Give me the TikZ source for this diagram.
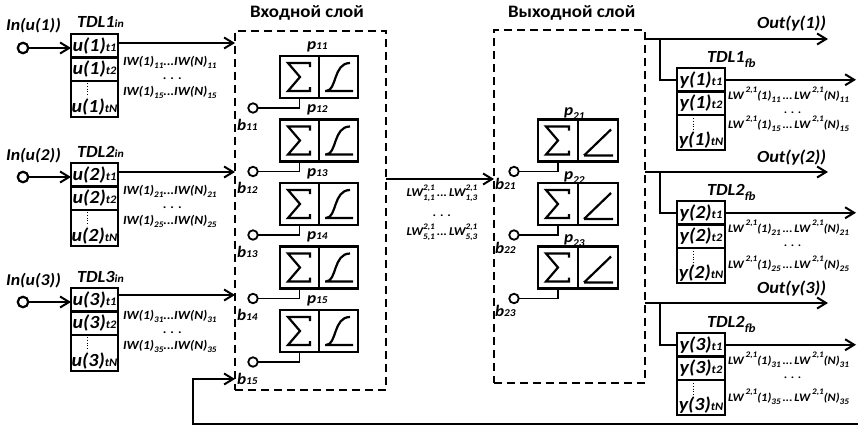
\documentclass[tikz,border=0pt]{standalone}
\usepackage{fontspec}
\setmainfont{Carlito}[FakeStretch=1.08]
\usetikzlibrary{arrows.meta,calc}
\newcommand\fsz[1]{\fontsize{#1}{#1}\selectfont}
\newcommand\mydn[1]{\raisebox{-0.28em}{\fsz{8.5}#1}}
\newcommand\myup[1]{\raisebox{0.55em}{\fsz{8.5}#1}}
\newcommand\myud[2]{\rlap{\myup{#1}}\mydn{#2}}
\begin{document}
\begin{tikzpicture}[x=1pt,y=-1pt,
  every node/.style={inner sep=0pt,outer sep=0pt,font=\bfseries\itshape},
  ln/.style={line width=2.4pt},
  arr/.style={line width=2.4pt,-{Straight Barb[length=9pt,width=11pt,line width=2pt]}},
  cellbox/.style={draw,line width=2.2pt,minimum width=47pt,anchor=north west},
  nbox/.style={draw,line width=2.2pt,minimum height=42pt,anchor=north west},
  glyph/.style={line width=2.2pt},
  biasc/.style={draw,circle,line width=1.8pt,minimum size=9.5pt,fill=white},
  biasl/.style={line width=1.8pt},
  inc/.style={draw,circle,line width=2.2pt,minimum size=10.5pt,fill=white},
  layer/.style={draw,line width=1.3pt,dash pattern=on 8pt off 5pt,anchor=north west},
  lbl/.style={anchor=base west}
]
\useasboundingbox (0,0) rectangle (858,428);

% layers
\node[layer,minimum width=151pt,minimum height=359pt] (L1) at (235,31) {};
\node[layer,minimum width=151pt,minimum height=353pt] (L2) at (494,30) {};
\node[lbl] (t1) at (250,18) {\fsz{17.5}\upshape Входной слой};
\node[lbl] (t2) at (508,18) {\fsz{17.5}\upshape Выходной слой};

% input TDLs
\foreach \rw/\T/\cy/\oy in {1/34/48/43, 2/163/177/172, 3/288/302/295} {
  \node[cellbox,minimum height=23.5pt] (u\rw a) at (71,\T) {\fsz{18.5}u(\rw)\fsz{11.5}t1};
  \node[cellbox,minimum height=23.5pt] (u\rw b) at (u\rw a.south west) {\fsz{18.5}u(\rw)\fsz{11.5}t2};
  \node[cellbox,minimum height=36pt] (u\rw c) at (u\rw b.south west) {};
  \node[anchor=south] (u\rw n) at ($(u\rw c.south)+(0,-1.5)$) {\fsz{18.5}u(\rw)\fsz{11.5}tN};
  \draw[dotted,line width=0.8pt] ($(u\rw c.north west)+(16,2)$) -- ++(0,14);
  \node[inc] (in\rw) at (23,\cy) {};
  \draw[arr] (in\rw) -- (in\rw -| u\rw a.west);
  \node[lbl] (inl\rw) at (6,\T-3) {\fsz{16.5}In(u(\rw))};
  \node[lbl] (tdl\rw) at (77,\T-6) {\fsz{17}TDL\rw\fsz{11}in};
  \draw[arr] (u\rw a.east |- 0,\oy) -- (L1.west |- 0,\oy);
  \node[lbl] (iwa\rw) at (123,\T+31) {\fsz{12.5}IW(1)\mydn{\rw1}...IW(N)\mydn{\rw1}};
  \node[lbl] (iwd\rw) at (163,\T+45) {\fsz{12.5}. . .};
  \node[lbl] (iwb\rw) at (123,\T+61) {\fsz{12.5}IW(1)\mydn{\rw5}...IW(N)\mydn{\rw5}};
}

% input layer neurons
\foreach \i/\y in {1/56,2/119.5,3/183,4/246.5,5/310} {
  \node[nbox,minimum width=39pt] (s1\i) at (280,\y) {};
  \node[nbox,minimum width=39pt] (f1\i) at (s1\i.north east) {};
  \draw[glyph,shift={(s1\i.north west)}] (30,11) -- (30,7) -- (8,7) -- (20,21) -- (8,35) -- (30,35) -- (30,31);
  \draw[glyph,shift={(f1\i.north west)}] (6,35) -- (34,35) (7,35) .. controls (18,35) and (14,7) .. (31,7);
  \node[biasc] (bc1\i) at (253,\y+52) {};
  \draw[biasl] (bc1\i) -| (s1\i.south);
  \node[lbl] (bl1\i) at (237,\y+74) {\fsz{16}b\fsz{10.5}1\i};
  \node[lbl] (pl1\i) at (307,\y-7) {\fsz{16}p\fsz{10.5}1\i};
}

% middle connection
\draw[arr] (L1.east |- 0,179) -- (L2.west |- 0,179);
\node (lwa) at (442,193) {\fsz{12}LW\myud{2,1}{1,1}\,...\,LW\myud{2,1}{1,3}};
\node (lwd) at (442,216) {\fsz{12}. . .};
\node (lwb) at (442,232) {\fsz{12}LW\myud{2,1}{5,1}\,...\,LW\myud{2,1}{5,3}};

% output layer neurons
\foreach \j/\y in {1/119.5,2/183,3/246.5} {
  \node[lbl] (pl2\j) at (564,\y-4) {\fsz{16}p\mydn{\fsz{10.5}2\j}};
  \node[nbox,minimum width=40pt] (s2\j) at (538,\y) {};
  \node[nbox,minimum width=40pt] (f2\j) at (s2\j.north east) {};
  \draw[glyph,shift={(s2\j.north west)}] (31,11) -- (31,7) -- (8,7) -- (20,21) -- (8,35) -- (31,35) -- (31,31);
  \draw[glyph,shift={(f2\j.north west)}] (6,36) -- (35,36) (6,36) -- (33,10);
  \node[biasc] (bc2\j) at (514,\y+52) {};
  \draw[biasl] (bc2\j) -| (s2\j.south);
  \node[lbl] (bl2\j) at (495,\y+70) {\fsz{16}b\fsz{10.5}2\j};
}

% output TDLs
\coordinate (xr) at (856,0);
\foreach \k/\T/\oy/\lab/\sb in {1/68/39/1/60, 2/201/172/2/67, 3/333/303/2/68} {
  \coordinate (oe\k) at (828,\oy);
  \draw[arr] (L2.east |- oe\k) -- (oe\k);
  \node[lbl] (ol\k) at (757,\oy-10) {\fsz{17}Out(y(\k))};
  \node[cellbox,minimum width=48pt,minimum height=23.5pt] (y\k a) at (677,\T) {\fsz{18.5}y(\k)\fsz{11.5}t1};
  \node[cellbox,minimum width=48pt,minimum height=23.5pt] (y\k b) at (y\k a.south west) {\fsz{18.5}y(\k)\fsz{11.5}t2};
  \node[cellbox,minimum width=48pt,minimum height=35pt] (y\k c) at (y\k b.south west) {};
  \node[anchor=south] (y\k n) at ($(y\k c.south)+(0,-1.5)$) {\fsz{18.5}y(\k)\fsz{11.5}tN};
  \draw[dotted,line width=0.8pt] ($(y\k c.north west)+(16,3)$) -- ++(0,14);
  \coordinate (br\k) at (660,\oy);
  \draw[ln] (br\k) |- (y\k a.west);
  \draw[arr] (y\k a.east) -- (y\k a.east -| xr);
  \node[lbl] (tf\k) at (707,\T-5.5) {\fsz{17}TDL\lab\mydn{\fsz{12}fb}};
  \node[lbl] (lwr\k) at (728,\T+31) {\fsz{11.5}LW\,\myup{2,1}(1)\mydn{\k1}\,...\,LW\,\myup{2,1}(N)\mydn{\k1}};
  \node[lbl] (lwrd\k) at (784,\T+45) {\fsz{11.5}. . .};
  \node[lbl] (lwrb\k) at (728,\T+\sb) {\fsz{11.5}LW\,\myup{2,1}(1)\mydn{\k5}\,...\,LW\,\myup{2,1}(N)\mydn{\k5}};
}

% feedback
\coordinate (fbs) at (858,424);
\coordinate (fbc) at (193,424);
\draw[arr] (fbs) -- (fbc) |- (L1.west |- 0,379);
\end{tikzpicture}
\end{document}
